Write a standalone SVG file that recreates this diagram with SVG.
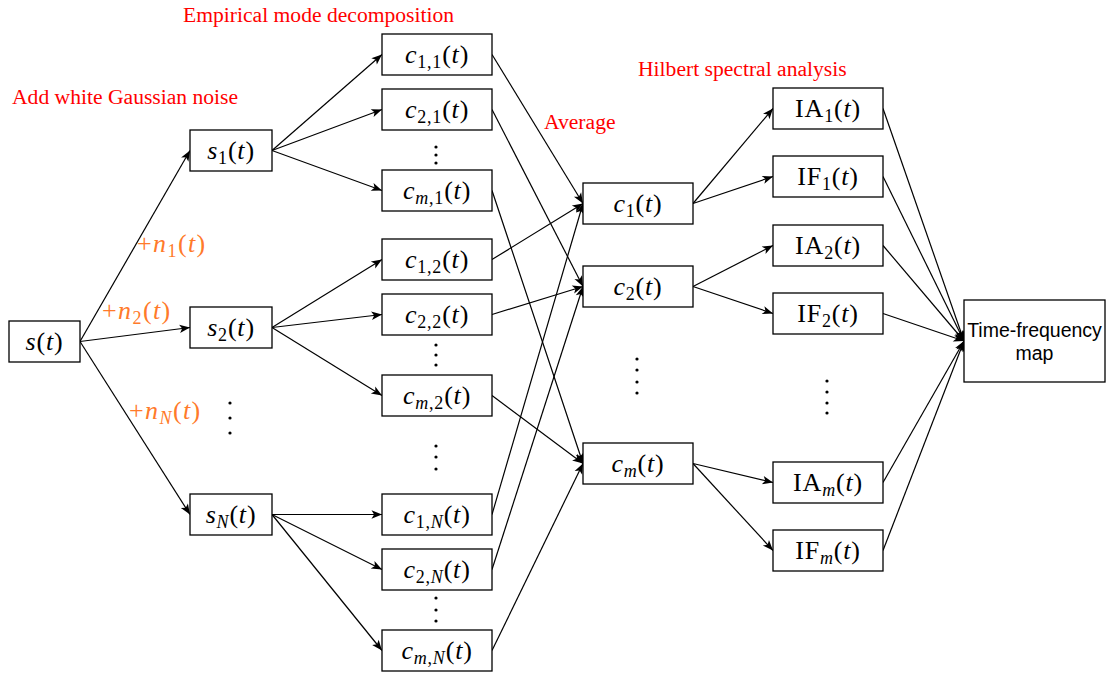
<svg xmlns="http://www.w3.org/2000/svg" width="1107" height="673" viewBox="0 0 1107 673">
<style>
.box{fill:#fff;stroke:#000;stroke-width:1.3}
.m{font-family:"Liberation Serif",serif;font-size:26px;text-anchor:middle;fill:#000;letter-spacing:0.8px}
.o{font-family:"Liberation Serif",serif;font-size:26px;fill:#FF7A2A;letter-spacing:1.4px}
.i{font-style:italic}
.sb{font-size:18px}
.lab{font-family:"Liberation Serif",serif;font-size:21.6px;fill:#FF0000}
.e{stroke:#000;stroke-width:1.2;fill:none;marker-end:url(#arr)}
.dot{fill:#000}
.sans{font-family:"Liberation Sans",Arial,sans-serif;font-size:19.5px;text-anchor:middle;fill:#000}
</style>
<defs>
<marker id="arr" markerUnits="userSpaceOnUse" markerWidth="12" markerHeight="10" viewBox="0 0 12 10" refX="11.5" refY="5" orient="auto">
<path d="M1,0.8 L11.5,5 L1,9.2 L3.6,5 Z" fill="#000"/>
</marker>
</defs>
<rect width="1107" height="673" fill="#fff"/>

<g id="labels">
<text class="lab" x="183" y="21.5">Empirical mode decomposition</text>
<text class="lab" x="12" y="104">Add white Gaussian noise</text>
<text class="lab" x="544" y="129">Average</text>
<text class="lab" x="638" y="76">Hilbert spectral analysis</text>
<text class="o" x="137" y="252">+<tspan class="i">n</tspan><tspan class="sb" dy="5">1</tspan><tspan dy="-5">(</tspan><tspan class="i">t</tspan>)</text>
<text class="o" x="102" y="319">+<tspan class="i">n</tspan><tspan class="sb" dy="5">2</tspan><tspan dy="-5">(</tspan><tspan class="i">t</tspan>)</text>
<text class="o" x="129" y="419">+<tspan class="i">n</tspan><tspan class="sb i" dy="5">N</tspan><tspan dy="-5">(</tspan><tspan class="i">t</tspan>)</text>
</g>

<g id="connectors">
<line class="e" x1="80" y1="341.5" x2="190" y2="150.5"/>
<line class="e" x1="80" y1="341.5" x2="190" y2="327.5"/>
<line class="e" x1="80" y1="341.5" x2="190" y2="514.5"/>
<line class="e" x1="272" y1="150.5" x2="382" y2="54.5"/>
<line class="e" x1="272" y1="150.5" x2="382" y2="109.5"/>
<line class="e" x1="272" y1="150.5" x2="382" y2="190.5"/>
<line class="e" x1="272" y1="327.5" x2="382" y2="259.5"/>
<line class="e" x1="272" y1="327.5" x2="382" y2="314.5"/>
<line class="e" x1="272" y1="327.5" x2="382" y2="395.5"/>
<line class="e" x1="272" y1="514.5" x2="382" y2="514.5"/>
<line class="e" x1="272" y1="514.5" x2="382" y2="569.5"/>
<line class="e" x1="272" y1="514.5" x2="382" y2="650.5"/>
<line class="e" x1="492" y1="54.5" x2="583" y2="203.5"/>
<line class="e" x1="492" y1="259.5" x2="583" y2="203.5"/>
<line class="e" x1="492" y1="514.5" x2="583" y2="203.5"/>
<line class="e" x1="492" y1="109.5" x2="583" y2="286.5"/>
<line class="e" x1="492" y1="314.5" x2="583" y2="286.5"/>
<line class="e" x1="492" y1="569.5" x2="583" y2="286.5"/>
<line class="e" x1="492" y1="190.5" x2="583" y2="463.5"/>
<line class="e" x1="492" y1="395.5" x2="583" y2="463.5"/>
<line class="e" x1="492" y1="650.5" x2="583" y2="463.5"/>
<line class="e" x1="693" y1="203.5" x2="773" y2="108.5"/>
<line class="e" x1="693" y1="203.5" x2="773" y2="176.5"/>
<line class="e" x1="693" y1="286.5" x2="773" y2="245.5"/>
<line class="e" x1="693" y1="286.5" x2="773" y2="313.5"/>
<line class="e" x1="693" y1="463.5" x2="773" y2="482.5"/>
<line class="e" x1="693" y1="463.5" x2="773" y2="550.5"/>
<line class="e" x1="883" y1="108.5" x2="964" y2="341"/>
<line class="e" x1="883" y1="176.5" x2="964" y2="341"/>
<line class="e" x1="883" y1="245.5" x2="964" y2="341"/>
<line class="e" x1="883" y1="313.5" x2="964" y2="341"/>
<line class="e" x1="883" y1="482.5" x2="964" y2="341"/>
<line class="e" x1="883" y1="550.5" x2="964" y2="341"/>
</g>

<g id="dots">
<circle class="dot" cx="436" cy="147" r="1.6"/><circle class="dot" cx="436" cy="155" r="1.6"/><circle class="dot" cx="436" cy="163" r="1.6"/>
<circle class="dot" cx="436" cy="345" r="1.6"/><circle class="dot" cx="436" cy="355" r="1.6"/><circle class="dot" cx="436" cy="365" r="1.6"/>
<circle class="dot" cx="436" cy="446" r="1.6"/><circle class="dot" cx="436" cy="457" r="1.6"/><circle class="dot" cx="436" cy="469" r="1.6"/>
<circle class="dot" cx="436" cy="598" r="1.6"/><circle class="dot" cx="436" cy="610" r="1.6"/><circle class="dot" cx="436" cy="621" r="1.6"/>
<circle class="dot" cx="230" cy="403" r="1.6"/><circle class="dot" cx="230" cy="418" r="1.6"/><circle class="dot" cx="230" cy="433" r="1.6"/>
<circle class="dot" cx="637" cy="359" r="1.6"/><circle class="dot" cx="637" cy="370" r="1.6"/><circle class="dot" cx="637" cy="382" r="1.6"/><circle class="dot" cx="637" cy="393" r="1.6"/>
<circle class="dot" cx="827" cy="381" r="1.6"/><circle class="dot" cx="827" cy="392" r="1.6"/><circle class="dot" cx="827" cy="403" r="1.6"/><circle class="dot" cx="827" cy="413" r="1.6"/>
</g>

<g id="s"><rect class="box" x="9" y="321" width="71" height="41"/><text class="m" x="44.5" y="350"><tspan class="i">s</tspan>(<tspan class="i">t</tspan>)</text></g>
<g id="s1"><rect class="box" x="190" y="130" width="82" height="41"/><text class="m" x="231" y="159"><tspan class="i">s</tspan><tspan class="sb" dy="5">1</tspan><tspan dy="-5">(</tspan><tspan class="i">t</tspan>)</text></g>
<g id="s2"><rect class="box" x="190" y="307" width="82" height="41"/><text class="m" x="231" y="336"><tspan class="i">s</tspan><tspan class="sb" dy="5">2</tspan><tspan dy="-5">(</tspan><tspan class="i">t</tspan>)</text></g>
<g id="sN"><rect class="box" x="190" y="494" width="82" height="41"/><text class="m" x="231" y="523"><tspan class="i">s</tspan><tspan class="sb i" dy="5">N</tspan><tspan dy="-5">(</tspan><tspan class="i">t</tspan>)</text></g>

<g id="c11"><rect class="box" x="382" y="34" width="110" height="41"/><text class="m" x="437" y="63"><tspan class="i">c</tspan><tspan class="sb" dy="5">1,1</tspan><tspan dy="-5">(</tspan><tspan class="i">t</tspan>)</text></g>
<g id="c21"><rect class="box" x="382" y="89" width="110" height="41"/><text class="m" x="437" y="118"><tspan class="i">c</tspan><tspan class="sb" dy="5">2,1</tspan><tspan dy="-5">(</tspan><tspan class="i">t</tspan>)</text></g>
<g id="cm1"><rect class="box" x="382" y="170" width="110" height="41"/><text class="m" x="437" y="199"><tspan class="i">c</tspan><tspan class="sb" dy="5"><tspan class="i">m</tspan>,1</tspan><tspan dy="-5">(</tspan><tspan class="i">t</tspan>)</text></g>
<g id="c12"><rect class="box" x="382" y="239" width="110" height="41"/><text class="m" x="437" y="268"><tspan class="i">c</tspan><tspan class="sb" dy="5">1,2</tspan><tspan dy="-5">(</tspan><tspan class="i">t</tspan>)</text></g>
<g id="c22"><rect class="box" x="382" y="294" width="110" height="41"/><text class="m" x="437" y="323"><tspan class="i">c</tspan><tspan class="sb" dy="5">2,2</tspan><tspan dy="-5">(</tspan><tspan class="i">t</tspan>)</text></g>
<g id="cm2"><rect class="box" x="382" y="375" width="110" height="41"/><text class="m" x="437" y="404"><tspan class="i">c</tspan><tspan class="sb" dy="5"><tspan class="i">m</tspan>,2</tspan><tspan dy="-5">(</tspan><tspan class="i">t</tspan>)</text></g>
<g id="c1N"><rect class="box" x="382" y="494" width="110" height="41"/><text class="m" x="437" y="523"><tspan class="i">c</tspan><tspan class="sb" dy="5">1,<tspan class="i">N</tspan></tspan><tspan dy="-5">(</tspan><tspan class="i">t</tspan>)</text></g>
<g id="c2N"><rect class="box" x="382" y="549" width="110" height="41"/><text class="m" x="437" y="578"><tspan class="i">c</tspan><tspan class="sb" dy="5">2,<tspan class="i">N</tspan></tspan><tspan dy="-5">(</tspan><tspan class="i">t</tspan>)</text></g>
<g id="cmN"><rect class="box" x="382" y="630" width="110" height="41"/><text class="m" x="437" y="659"><tspan class="i">c</tspan><tspan class="sb" dy="5"><tspan class="i">m</tspan>,<tspan class="i">N</tspan></tspan><tspan dy="-5">(</tspan><tspan class="i">t</tspan>)</text></g>

<g id="c1"><rect class="box" x="583" y="183" width="110" height="41"/><text class="m" x="638" y="212"><tspan class="i">c</tspan><tspan class="sb" dy="5">1</tspan><tspan dy="-5">(</tspan><tspan class="i">t</tspan>)</text></g>
<g id="c2"><rect class="box" x="583" y="266" width="110" height="41"/><text class="m" x="638" y="295"><tspan class="i">c</tspan><tspan class="sb" dy="5">2</tspan><tspan dy="-5">(</tspan><tspan class="i">t</tspan>)</text></g>
<g id="cm"><rect class="box" x="583" y="443" width="110" height="41"/><text class="m" x="638" y="472"><tspan class="i">c</tspan><tspan class="sb i" dy="5">m</tspan><tspan dy="-5">(</tspan><tspan class="i">t</tspan>)</text></g>

<g id="IA1"><rect class="box" x="773" y="88" width="110" height="41"/><text class="m" x="828" y="117">IA<tspan class="sb" dy="5">1</tspan><tspan dy="-5">(</tspan><tspan class="i">t</tspan>)</text></g>
<g id="IF1"><rect class="box" x="773" y="156" width="110" height="41"/><text class="m" x="828" y="185">IF<tspan class="sb" dy="5">1</tspan><tspan dy="-5">(</tspan><tspan class="i">t</tspan>)</text></g>
<g id="IA2"><rect class="box" x="773" y="225" width="110" height="41"/><text class="m" x="828" y="254">IA<tspan class="sb" dy="5">2</tspan><tspan dy="-5">(</tspan><tspan class="i">t</tspan>)</text></g>
<g id="IF2"><rect class="box" x="773" y="293" width="110" height="41"/><text class="m" x="828" y="322">IF<tspan class="sb" dy="5">2</tspan><tspan dy="-5">(</tspan><tspan class="i">t</tspan>)</text></g>
<g id="IAm"><rect class="box" x="773" y="462" width="110" height="41"/><text class="m" x="828" y="491">IA<tspan class="sb i" dy="5">m</tspan><tspan dy="-5">(</tspan><tspan class="i">t</tspan>)</text></g>
<g id="IFm"><rect class="box" x="773" y="530" width="110" height="41"/><text class="m" x="828" y="559">IF<tspan class="sb i" dy="5">m</tspan><tspan dy="-5">(</tspan><tspan class="i">t</tspan>)</text></g>

<g id="map"><rect class="box" x="964" y="300" width="141" height="82"/><text class="sans" x="1034.5" y="337">Time-frequency</text><text class="sans" x="1034.5" y="360">map</text></g>
</svg>
